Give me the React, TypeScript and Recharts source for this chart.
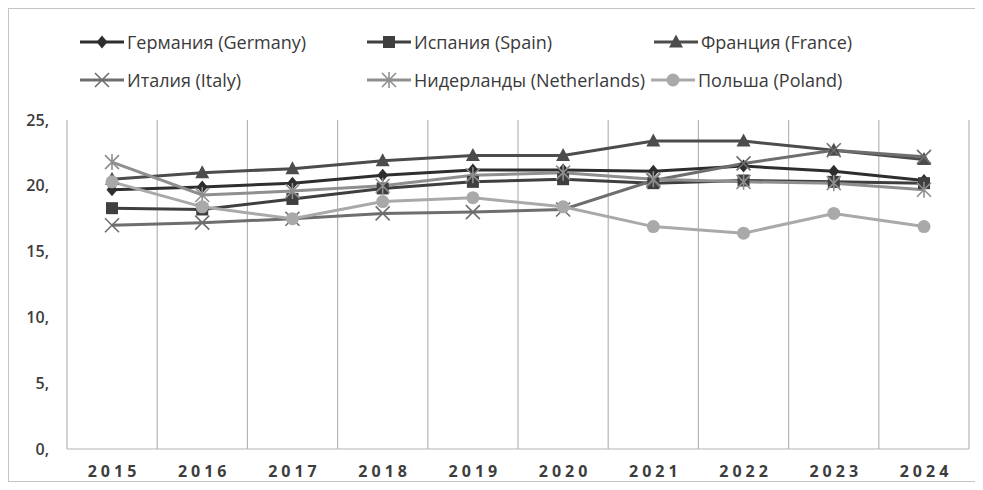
import React from "react";
import { LineChart, Line, XAxis, YAxis, CartesianGrid } from "recharts";

const years = ["2015", "2016", "2017", "2018", "2019", "2020", "2021", "2022", "2023", "2024"];
const germany = [19.7, 19.9, 20.2, 20.8, 21.2, 21.2, 21.1, 21.5, 21.1, 20.4];
const spain = [18.3, 18.2, 19.0, 19.8, 20.3, 20.5, 20.2, 20.4, 20.3, 20.2];
const france = [20.5, 21.0, 21.3, 21.9, 22.3, 22.3, 23.4, 23.4, 22.7, 22.0];
const italy = [17.0, 17.2, 17.5, 17.9, 18.0, 18.2, 20.4, 21.7, 22.7, 22.2];
const netherlands = [21.8, 19.3, 19.6, 20.0, 20.8, 21.0, 20.5, 20.3, 20.2, 19.7];
const poland = [20.3, 18.4, 17.5, 18.8, 19.1, 18.4, 16.9, 16.4, 17.9, 16.9];
const yTicks = [0, 5, 10, 15, 20, 25];

const series = [
  { key: "germany", name: "Германия (Germany)", color: "#2e2e2e", shape: "diamond" },
  { key: "spain", name: "Испания (Spain)", color: "#3f3f3f", shape: "square" },
  { key: "france", name: "Франция (France)", color: "#4c4c4c", shape: "triangle" },
  { key: "italy", name: "Италия (Italy)", color: "#6e6e6e", shape: "x" },
  { key: "netherlands", name: "Нидерланды (Netherlands)", color: "#8f8f8f", shape: "star" },
  { key: "poland", name: "Польша (Poland)", color: "#a9a9a9", shape: "circle" },
];

// legend slots (left, top) in the frame, two rows like the original
const legendSlots = [
  [71, 21],
  [358, 21],
  [645, 21],
  [71, 59],
  [358, 59],
  [642, 59],
];

const data = years.map((year, i) => ({
  year,
  germany: germany[i],
  spain: spain[i],
  france: france[i],
  italy: italy[i],
  netherlands: netherlands[i],
  poland: poland[i],
}));

function Marker({ cx, cy, shape, color }: { cx: number; cy: number; shape: string; color: string }) {
  if (cx == null || cy == null) return null;
  switch (shape) {
    case "diamond":
      return <path d={`M${cx},${cy - 6.5}L${cx + 5.5},${cy}L${cx},${cy + 6.5}L${cx - 5.5},${cy}Z`} fill={color} />;
    case "square":
      return <rect x={cx - 6} y={cy - 6} width={12} height={12} fill={color} />;
    case "triangle":
      return <path d={`M${cx},${cy - 7.5}L${cx + 7},${cy + 5.5}L${cx - 7},${cy + 5.5}Z`} fill={color} />;
    case "x":
      return (
        <path
          d={`M${cx - 7},${cy - 7}L${cx + 7},${cy + 7}M${cx + 7},${cy - 7}L${cx - 7},${cy + 7}`}
          stroke={color}
          strokeWidth={1.6}
          fill="none"
        />
      );
    case "star":
      return (
        <path
          d={`M${cx - 7},${cy - 7}L${cx + 7},${cy + 7}M${cx + 7},${cy - 7}L${cx - 7},${cy + 7}M${cx},${cy - 8}L${cx},${cy + 8}`}
          stroke={color}
          strokeWidth={1.6}
          fill="none"
        />
      );
    default:
      return <circle cx={cx} cy={cy} r={6.5} fill={color} />;
  }
}

function LegendBox() {
  return (
    <>
      {series.map((s, i) => (
        <div
          key={s.key}
          style={{
            position: "absolute",
            left: legendSlots[i][0],
            top: legendSlots[i][1],
            display: "flex",
            alignItems: "center",
            fontFamily: "'Open Sans', sans-serif",
            fontSize: 18,
            color: "#3a3a3a",
            whiteSpace: "nowrap",
          }}
        >
          <svg width={44} height={18} style={{ marginRight: 3 }}>
            <line x1={0} y1={9} x2={44} y2={9} stroke={s.color} strokeWidth={3} />
            <Marker cx={22} cy={9} shape={s.shape} color={s.color} />
          </svg>
          <span>{s.name}</span>
        </div>
      ))}
    </>
  );
}

export default function App() {
  return (
    <div
      style={{
        position: "relative",
        width: 970,
        height: 474,
        border: "1px solid #c4c4c4",
        boxSizing: "border-box",
        background: "#fff",
      }}
    >
      <LegendBox />
      <div style={{ position: "absolute", left: 0, top: 0 }}>
        <LineChart width={968} height={472} data={data} margin={{ top: 111, right: 8, bottom: 0, left: 0 }}>
          <CartesianGrid
            horizontal={false}
            stroke="#b4b4b4"
            strokeWidth={1.2}
            verticalCoordinatesGenerator={({ offset }: any) =>
              Array.from({ length: years.length + 1 }, (_, i) => offset.left + (i * offset.width) / years.length)
            }
          />
          <XAxis
            dataKey="year"
            height={32}
            padding={{ left: 45, right: 45 }}
            axisLine={{ stroke: "#b4b4b4", strokeWidth: 1.2 }}
            tickLine={false}
            tickSize={0}
            tickMargin={17}
            tick={{ fontFamily: "'Open Sans', sans-serif", fontWeight: 700, fontSize: 16, fill: "#3d3d3d", letterSpacing: 4, dx: 2 }}
          />
          <YAxis
            width={58}
            domain={[0, 25]}
            ticks={yTicks}
            tickFormatter={(v: number) => `${v},`}
            axisLine={false}
            tickLine={false}
            tickSize={0}
            tickMargin={18}
            tick={{ fontFamily: "'Open Sans', sans-serif", fontWeight: 600, fontSize: 16, fill: "#3d3d3d" }}
          />
          {series.map((s) => (
            <Line
              key={s.key}
              dataKey={s.key}
              name={s.name}
              stroke={s.color}
              strokeWidth={3}
              isAnimationActive={false}
              dot={(p: any) => <Marker key={`${s.key}-${p.index}`} cx={p.cx} cy={p.cy} shape={s.shape} color={s.color} />}
              activeDot={false}
            />
          ))}
        </LineChart>
      </div>
    </div>
  );
}
